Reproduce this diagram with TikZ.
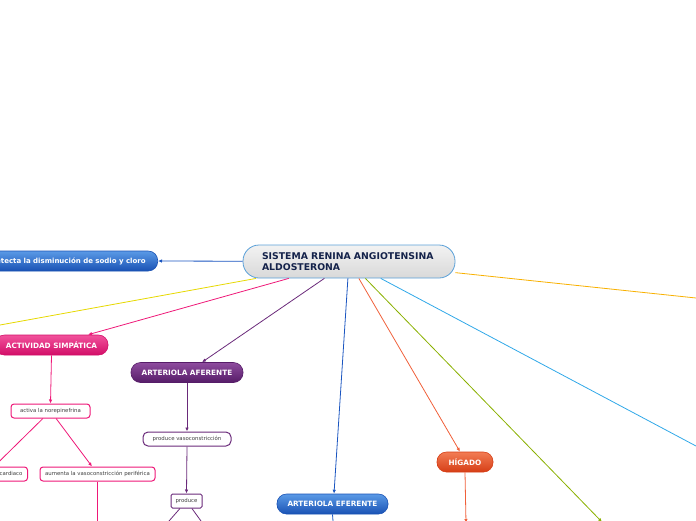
\documentclass[tikz,border=0pt]{standalone}
\usepackage{fontspec}
\setmainfont{DejaVu Sans}
\usetikzlibrary{arrows.meta}
\definecolor{bluetop}{HTML}{5A9AE6}
\definecolor{bluebot}{HTML}{1A52B4}
\definecolor{blueline}{HTML}{1A55C0}
\definecolor{pinktop}{HTML}{F2529C}
\definecolor{pinkbot}{HTML}{D20E68}
\definecolor{pinkline}{HTML}{EE1878}
\definecolor{purptop}{HTML}{8E4C9E}
\definecolor{purpbot}{HTML}{561C68}
\definecolor{purpline}{HTML}{6A2A7A}
\definecolor{orgtop}{HTML}{F27C54}
\definecolor{orgbot}{HTML}{D63E16}
\definecolor{orgline}{HTML}{F0603A}
\definecolor{yelline}{HTML}{E6D800}
\definecolor{grnline}{HTML}{8AB000}
\definecolor{cyanline}{HTML}{30A8E8}
\definecolor{goldline}{HTML}{F8B000}
\definecolor{cborder}{HTML}{5AA0D8}
\definecolor{ctext}{HTML}{14224A}
\tikzset{
  x=1pt, y=-1pt,
  conn/.style={line width=0.8pt},
  arr/.style={conn,-{Latex[length=4pt,width=3.5pt]}},
  bignode/.style={rounded corners=9.5pt, minimum height=20pt, inner ysep=0pt, inner xsep=3pt,
     text=white, font=\fontsize{7.3}{8}\selectfont\bfseries, line width=0.6pt},
  bluebox/.style={bignode, top color=bluetop, bottom color=bluebot, draw=bluebot},
  pinkbox/.style={bignode, top color=pinktop, bottom color=pinkbot, draw=pinkbot},
  purpbox/.style={bignode, top color=purptop, bottom color=purpbot, draw=purpbot},
  orgbox/.style={bignode, top color=orgtop, bottom color=orgbot, draw=orgbot},
  smallbox/.style={fill=white, rounded corners=3pt, minimum height=14pt, inner ysep=0pt,
     inner xsep=3pt, font=\fontsize{5.4}{6}\selectfont, text=black!75, line width=1pt},
}
\begin{document}
\begin{tikzpicture}
\useasboundingbox (0,0) rectangle (696,520);
% central
\node[rounded corners=16pt, minimum width=212pt, minimum height=33pt, inner sep=0pt,
  top color=white!95!black, bottom color=black!15, draw=cborder, line width=0.8pt,
  text width=174pt, align=left, text=ctext,
  font=\fontsize{9.3}{10.5}\selectfont\bfseries] (c) at (349,261.5)
  {SISTEMA RENINA ANGIOTENSINA\\ALDOSTERONA};
% level 1 nodes
\node[bluebox, anchor=east, inner xsep=12pt, font=\fontsize{7}{8}\selectfont\bfseries] (det) at (158,261) {Detecta la disminución de sodio y cloro};
\node[pinkbox, minimum width=113pt] (act) at (51.5,345) {ACTIVIDAD SIMPÁTICA};
\node[purpbox, minimum width=112pt] (aff) at (187,372.5) {ARTERIOLA AFERENTE};
\node[bluebox, minimum width=111pt] (eff) at (332.5,504) {ARTERIOLA EFERENTE};
\node[orgbox, minimum width=56pt] (hig) at (465,462) {HÍGADO};
% small nodes
\node[smallbox, draw=pinkline, minimum width=79pt] (nor) at (50.5,411) {activa la norepinefrina};
\node[smallbox, draw=pinkline, minimum width=115pt] (aum) at (97.5,474) {aumenta la vasoconstricción periférica};
\node[smallbox, draw=pinkline, anchor=east, inner xsep=5pt] (car) at (28,474) {aumenta el gasto cardiaco};
\node[smallbox, draw=purpline, rounded corners=5pt, minimum width=88pt] (pv) at (187,439) {produce vasoconstricción};
\node[smallbox, draw=purpline, rounded corners=1.5pt, minimum width=31pt] (pr) at (186.5,501) {produce};
% free ends
\coordinate (yel) at (0,325);
\coordinate (grn) at (602,522);
\coordinate (cya) at (696,446);
\coordinate (gol) at (696,298);
\coordinate (aumd) at (97.5,521);
\coordinate (prl) at (169,521);
\coordinate (prr) at (201,521);
\coordinate (effd) at (333,521);
\coordinate (higd) at (466,523);
% connectors from central
\draw[arr, blueline] (c) -- (det.east);
\draw[conn, yelline] (c) -- (yel);
\draw[arr, pinkline] (c) -- ([xshift=36.5pt]act.north);
\draw[arr, purpline] (c) -- ([xshift=15pt]aff.north);
\draw[arr, blueline] (c) -- ([xshift=1.5pt]eff.north);
\draw[arr, orgline] (c) -- ([xshift=-5pt]hig.north);
\draw[arr, grnline] (c) -- (grn);
\draw[conn, cyanline] (c) -- (cya);
\draw[conn, goldline] (c) -- (gol);
% sub connectors
\draw[arr, pinkline] (act.south) -- (nor.north);
\draw[arr, pinkline] (nor) -- ([xshift=-5.5pt]aum.north);
\draw[arr, pinkline] (nor) -- (car);
\draw[conn, pinkline] (aum.south) -- (aumd);
\draw[arr, purpline] (aff.south) -- (pv.north);
\draw[arr, purpline] (pv.south) -- (pr.north);
\draw[conn, purpline] (pr) -- (prl);
\draw[conn, purpline] (pr) -- (prr);
\draw[conn, blueline] (eff.south) -- (effd);
\draw[arr, orgline] (hig.south) -- (higd);
\end{tikzpicture}
\end{document}
